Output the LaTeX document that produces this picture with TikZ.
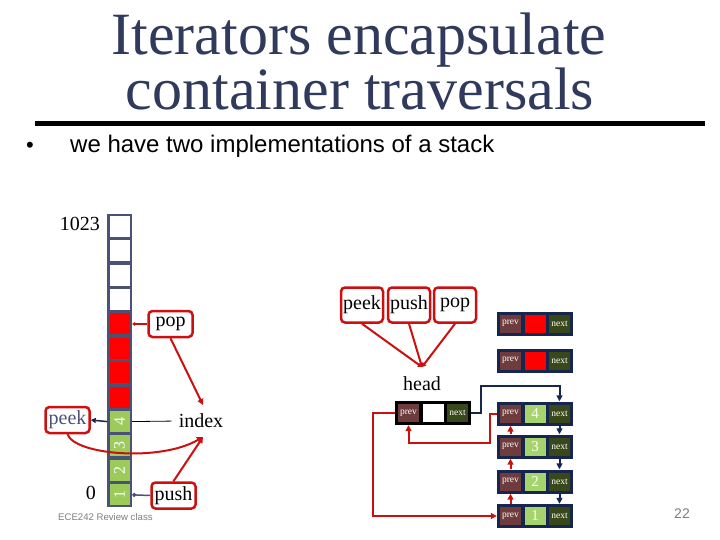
\documentclass[tikz,border=0pt]{standalone}
\usepackage{fontspec}
\setmainfont{Liberation Serif}
\setsansfont{Liberation Sans}
\usetikzlibrary{arrows.meta}
\definecolor{slate}{HTML}{2F3A5C}
\definecolor{colborder}{HTML}{4A5275}
\definecolor{cellred}{HTML}{FF0000}
\definecolor{cellgreen}{HTML}{9CCB5B}
\definecolor{linered}{HTML}{CC1010}
\definecolor{navy}{HTML}{17264E}
\definecolor{prevc}{HTML}{6E3C3C}
\definecolor{nextc}{HTML}{38481A}
\definecolor{midgreen}{HTML}{A6D46C}
\definecolor{footgray}{HTML}{7F7F7F}
\newcommand{\LLnode}[6]{%
  \node[llbox, fill=#4] (#1) at (#2,#3) {};
  \node[llcell, fill=prevc] (#1-p) at ({#2-24.5},#3) {prev};
  \node[llcell, fill=#5] (#1-m) at (#2,#3) {#6};
  \node[llcell, fill=nextc] (#1-n) at ({#2+24.5},#3) {next};
}
\newcommand{\bignum}{\fontsize{15}{15}\selectfont}
\tikzset{
  lab/.style={font=\fontsize{20}{22}\selectfont, inner sep=1pt},
  redbox/.style={draw=linered, line width=2.5pt, rounded corners=4pt, minimum width=44pt, minimum height=26pt, inner sep=1pt, font=\fontsize{20}{22}\selectfont},
  tallbox/.style={redbox, minimum width=42pt, minimum height=35pt},
  cell/.style={minimum width=21pt, minimum height=20pt, inner sep=0pt, text=white, font=\fontsize{16}{16}\selectfont, rotate=90},
  llbox/.style={minimum width=76pt, minimum height=24pt, inner sep=0pt},
  llcell/.style={minimum width=21pt, minimum height=18pt, inner sep=0pt, text=white, font=\fontsize{9.5}{9.5}\selectfont},
  redline/.style={draw=linered, line width=2pt},
  redarrow/.style={redline, -{Triangle[length=6pt,width=6pt]}},
  navyarrow/.style={draw=navy, line width=2pt, -{Triangle[length=6pt,width=6pt]}},
}
\begin{document}
\begin{tikzpicture}[x=1pt,y=-1pt]
\useasboundingbox[fill=white] (0,0) rectangle (720,540);

% title
\node[anchor=base, text=slate, font=\fontsize{60}{60}\selectfont, inner sep=0] (t1) at (359,55) {Iterators encapsulate};
\node[anchor=base, text=slate, font=\fontsize{60}{60}\selectfont, inner sep=0] (t2) at (360,110) {container traversals};
\draw[line width=5pt] (35,124) -- (705,124);

% bullet
\node[anchor=base, font=\sffamily\fontsize{22}{28}\selectfont, inner sep=0] (bullet) at (30,153) {•};
\node[anchor=base west, font=\sffamily\fontsize{24}{28}\selectfont, inner sep=0] (btext) at (70,153) {we have two implementations of a stack};

% stack array
\node[fill=colborder, minimum width=25pt, minimum height=293pt, inner sep=0] (col) at (119.5,360.5) {};
\foreach \i/\col/\lab in {0/white/,1/white/,2/white/,3/white/,4/cellred/,5/cellred/,6/cellred/,7/cellred/,8/cellgreen/4,9/cellgreen/3,10/cellgreen/2,11/cellgreen/1}
  \node[cell, fill=\col] (c\i) at (119.5,{214+24.42*(\i+0.5)}) {\lab};

\node[lab, anchor=east] (n1023) at (101,224) {1023};
\node[lab, anchor=east] (n0) at (97,493) {0};

\node[redbox] (pop) at (170.5,324) {pop};
\node[redbox, text=colborder] (peek) at (67.5,420) {peek};
\node[redbox] (push) at (173.5,495.5) {push};
\node[lab] (index) at (201,421) {index};

\draw[linered, line width=2pt, -{Triangle[length=3pt,width=4pt]}] (pop.west) -- (col.east |- pop.west);
\draw[navy, line width=1.5pt, -{Triangle[length=5pt,width=5pt]}] (col.west |- c8) -- (peek.east);
\draw[black, line width=0.8pt, shorten >=6pt] (col.east |- c8) -- (index.west);
\draw[colborder, line width=1.5pt, {Circle[length=4pt]}-] (col.east |- c11) -- (push.west);

\coordinate (ix1) at (203,405);
\coordinate (ix2) at (203,437);
\draw[redarrow] (pop.south) -- (ix1);
\draw[redarrow] (peek.south) .. controls (75,455) and (160,462) .. (ix2);
\draw[redarrow] (push.north) -- (ix2);

% iterator ops on linked list
\node[tallbox] (peek2) at (362,305) {peek};
\node[tallbox] (push2) at (409,305) {push};
\node[tallbox] (pop2) at (455,305) {pop};
\coordinate (hp) at (422,367);
\draw[redline, -{Triangle[length=4pt,width=5pt]}] (peek2.south) -- (hp);
\draw[redline, -{Triangle[length=4pt,width=5pt]}] (push2.south) -- (hp);
\draw[redline, -{Triangle[length=4pt,width=5pt]}] (pop2.south) -- (hp);
\node[lab] (head) at (422,384) {head};

% linked list nodes
\LLnode{u1}{535}{323.5}{navy}{cellred}{}
\LLnode{u2}{535}{360.5}{navy}{cellred}{}
\LLnode{hd}{433}{413}{black}{white}{}
\LLnode{n4}{535}{413.5}{navy}{midgreen}{\bignum 4}
\LLnode{n3}{535}{446.5}{navy}{midgreen}{\bignum 3}
\LLnode{n2}{535}{481.5}{navy}{midgreen}{\bignum 2}
\LLnode{n1}{535}{516}{navy}{midgreen}{\bignum 1}

% next pointers
\draw[navyarrow] (hd.east) -- ++(10,0) -- ++(0,-27) -| (n4-n |- n4.north);
\draw[navyarrow] (n4-n |- n4.south) -- (n3-n |- n3.north);
\draw[navyarrow] (n3-n |- n3.south) -- (n2-n |- n2.north);
\draw[navyarrow] (n2-n |- n2.south) -- (n1-n |- n1.north);

% prev pointers
\draw[redarrow] (n1-p |- n1.north) -- (n2-p |- n2.south);
\draw[redarrow] (n2-p |- n2.north) -- (n3-p |- n3.south);
\draw[redarrow] (n3-p |- n3.north) -- (n4-p |- n4.south);
\draw[redarrow] (n4.west) -- ++(-7,0) -- ++(0,29) -| (hd-p |- hd.south);
\draw[redarrow] (hd.west) -- ++(-22,0) |- (n1.west);

% footer
\node[anchor=base west, font=\sffamily\fontsize{9.6}{10}\selectfont, text=footgray, inner sep=0] (foot) at (58,520) {ECE242 Review class};
\node[font=\sffamily\fontsize{14}{14}\selectfont, text=footgray] (pg) at (682,514) {22};
\end{tikzpicture}
\end{document}
